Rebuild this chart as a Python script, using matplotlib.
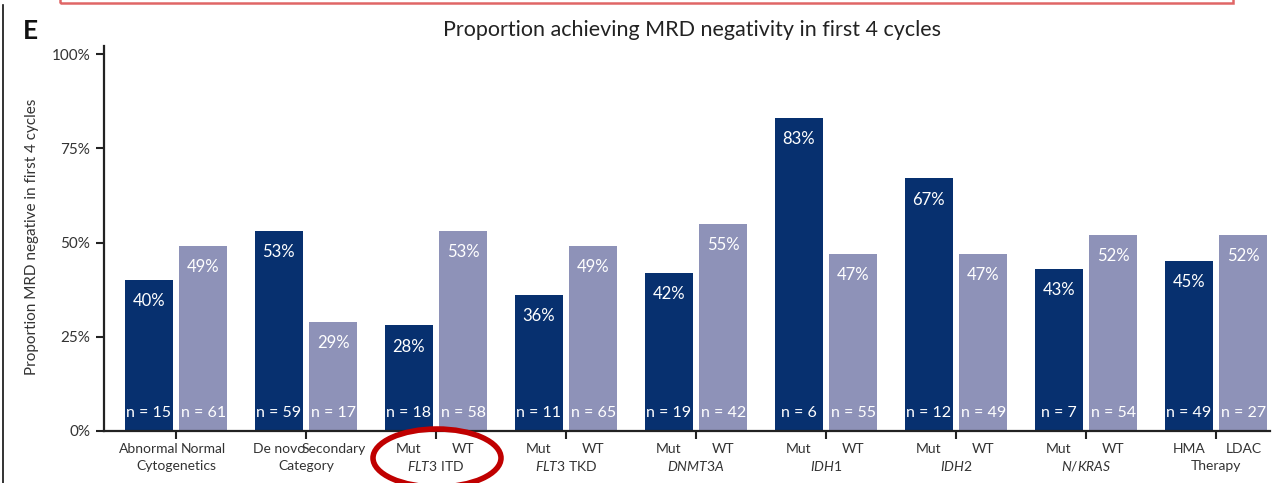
import matplotlib
matplotlib.use("Agg")
import matplotlib.pyplot as plt
from matplotlib.patches import Ellipse, Rectangle
from matplotlib.lines import Line2D

plt.rcParams['font.family'] = ['Lato', 'DejaVu Sans']
plt.rcParams['mathtext.fontset'] = 'custom'
plt.rcParams['mathtext.rm'] = 'Lato'
plt.rcParams['mathtext.it'] = 'Lato:italic'

groups = ["Cytogenetics", "Category", r"$\mathit{FLT3}$ ITD", r"$\mathit{FLT3}$ TKD",
          r"$\mathit{DNMT3A}$", r"$\mathit{IDH1}$", r"$\mathit{IDH2}$", r"$\mathit{N/KRAS}$", "Therapy"]
left_labels = ["Abnormal", "De novo", "Mut", "Mut", "Mut", "Mut", "Mut", "Mut", "HMA"]
right_labels = ["Normal", "Secondary", "WT", "WT", "WT", "WT", "WT", "WT", "LDAC"]
left_vals = [40, 53, 28, 36, 42, 83, 67, 43, 45]
right_vals = [49, 29, 53, 49, 55, 47, 47, 52, 52]
left_n = [15, 59, 18, 11, 19, 6, 12, 7, 49]
right_n = [61, 17, 58, 65, 42, 55, 49, 54, 27]

dark = "#07306f"
light = "#8e92b8"

W, H = 1281, 483
fig = plt.figure(figsize=(W / 100, H / 100), dpi=100)
ax = fig.add_axes([104 / W, 52 / H, 1166 / W, 377 / H * 1.02])

off = 0.21
bw = 0.37
x = list(range(len(groups)))
xl = [i - off for i in x]
xr = [i + off for i in x]
ax.bar(xl, left_vals, width=bw, color=dark)
ax.bar(xr, right_vals, width=bw, color=light)

for xs, vals, ns in ((xl, left_vals, left_n), (xr, right_vals, right_n)):
    for xi, v, n in zip(xs, vals, ns):
        ax.text(xi, v - 5.6, f"{v}%", color="white", ha="center", va="center", fontsize=12)
        ax.text(xi, 4.8, f"n = {n}", color="white", ha="center", va="center", fontsize=11.5)

ax.set_xlim(-0.554, 8.415)
ax.set_ylim(0, 102)
ax.set_yticks([0, 25, 50, 75, 100])
ax.set_yticklabels(["0%", "25%", "50%", "75%", "100%"], fontsize=11, color="#333333")
ax.set_xticks(x)
ax.set_xticklabels([])
ax.tick_params(axis='both', length=6, width=1.5, color="#222222")
ax.tick_params(axis='y', pad=4)
for s in ("top", "right"):
    ax.spines[s].set_visible(False)
for s in ("left", "bottom"):
    ax.spines[s].set_linewidth(1.6)
    ax.spines[s].set_color("#222222")

trans = ax.get_xaxis_transform()
for i in x:
    ax.text(xl[i], -0.048, left_labels[i], transform=trans, ha="center", va="center",
            fontsize=10, color="#333333", clip_on=False)
    ax.text(xr[i], -0.048, right_labels[i], transform=trans, ha="center", va="center",
            fontsize=10, color="#333333", clip_on=False)
    ax.text(i, -0.092, groups[i], transform=trans, ha="center", va="center",
            fontsize=10, color="#333333", clip_on=False)

ax.set_ylabel("Proportion MRD negative in first 4 cycles", fontsize=11, color="#333333")
ax.yaxis.set_label_coords(-0.056, 0.505)

fig.text(692 / W, 1 - 30 / H, "Proportion achieving MRD negativity in first 4 cycles",
         ha="center", va="center", fontsize=15.5, color="#222222")
fig.text(30 / W, 1 - 31 / H, "E", ha="center", va="center", fontsize=19, fontweight="bold", color="#111111")

# decorations from source figure
fig.patches.append(Ellipse((437 / W, 1 - 458 / H), 128 / W, 58 / H, transform=fig.transFigure,
                           fill=False, edgecolor="#c00000", linewidth=4))
fig.patches.append(Rectangle((60 / W, 1 - 3 / H), 1173 / W, 10 / H, transform=fig.transFigure,
                             fill=False, edgecolor="#e06666", linewidth=1.8, clip_on=False))
fig.lines.append(Line2D([3 / W, 3 / W], [0, 1 - 5 / H], transform=fig.transFigure,
                        color="#111111", linewidth=1.2))

fig.savefig("out.png", dpi=100)
